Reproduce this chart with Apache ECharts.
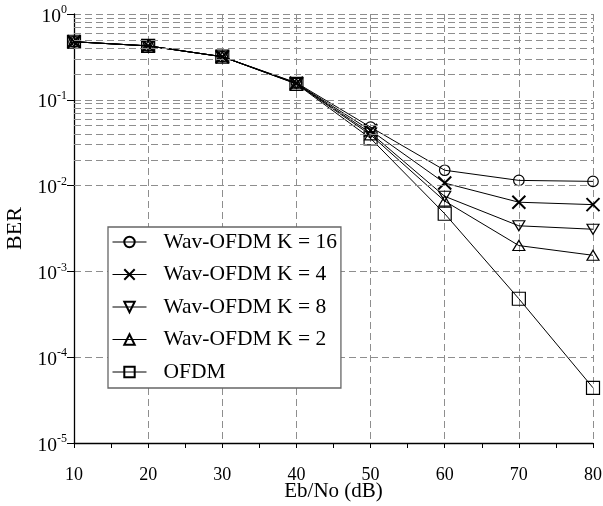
<!DOCTYPE html>
<html>
<head>
<meta charset="utf-8">
<script src="https://cdn.jsdelivr.net/npm/echarts@6/dist/echarts.min.js"></script>
<style>
  html, body { margin: 0; padding: 0; background: #fff; }
  #chart { width: 603px; height: 506px; }
</style>
</head>
<body>
<div id="chart"></div>
<script>
// Eb/No sweep (dB)
const ebno = [10, 20, 30, 40, 50, 60, 70, 80];

// Bit error rate for each scheme
const berWavK16 = [0.475, 0.425, 0.318, 0.158, 0.048, 0.0151, 0.0115, 0.0112];
const berWavK4  = [0.475, 0.425, 0.318, 0.156, 0.044, 0.0107, 0.0064, 0.0060];
const berWavK8  = [0.475, 0.425, 0.318, 0.155, 0.041, 0.0075, 0.0034, 0.0031];
const berWavK2  = [0.475, 0.425, 0.318, 0.154, 0.039, 0.0066, 0.0020, 0.00154];
const berOFDM   = [0.475, 0.425, 0.318, 0.153, 0.0355, 0.0047, 0.00048, 0.000044];

const seriesNames = ['Wav-OFDM K = 16', 'Wav-OFDM K = 4', 'Wav-OFDM K = 8', 'Wav-OFDM K = 2', 'OFDM'];

// log-axis decades and the intermediate gridline multipliers
const decades = [-5, -4, -3, -2, -1];
const gridMultipliers = [2, 3, 4, 5, 6, 7, 8, 9];
const minorGridValues = [];
decades.forEach(d => gridMultipliers.forEach(m => minorGridValues.push(m * Math.pow(10, d))));

const FONT = '"Liberation Serif", "Times New Roman", serif';
const gridDash = { type: [7, 4], color: '#8e8e8e', width: 1 };

function curve(name, values, symbol, size, extra) {
  return Object.assign({
    name: name,
    type: 'line',
    z: 3,
    data: ebno.map((x, i) => [x, values[i]]),
    symbol: symbol,
    symbolSize: size,
    showAllSymbol: true,
    lineStyle: { color: '#000', width: 1 },
    itemStyle: { color: 'rgba(0,0,0,0)', borderColor: '#000', borderWidth: 1.2 },
    emphasis: { disabled: true },
    animation: false
  }, extra || {});
}

const chart = echarts.init(document.getElementById('chart'), null, { renderer: 'canvas' });

chart.setOption({
  animation: false,
  backgroundColor: '#fff',
  grid: { left: 74, right: 10, top: 14, bottom: 63, containLabel: false, outerBoundsMode: 'none' },
  xAxis: {
    type: 'value',
    min: 10, max: 80, interval: 10,
    name: 'Eb/No (dB)',
    nameLocation: 'middle',
    nameGap: 38,
    nameMoveOverlap: false,
    nameTextStyle: { fontFamily: FONT, fontSize: 21, color: '#000' },
    axisLine: { show: true, onZero: false, lineStyle: { color: '#000', width: 1.3 } },
    axisTick: { show: true, length: 5, lineStyle: { color: '#000', width: 1 } },
    minorTick: { show: true, splitNumber: 2, length: 5, lineStyle: { color: '#000', width: 1 } },
    axisLabel: { fontFamily: FONT, fontSize: 18, color: '#000', margin: 23 },
    splitLine: { show: true, lineStyle: gridDash }
  },
  yAxis: {
    type: 'log',
    logBase: 10,
    min: 1e-5, max: 1,
    name: 'BER',
    nameLocation: 'middle',
    nameGap: 47,
    nameRotate: 90,
    nameTextStyle: { fontFamily: FONT, fontSize: 22, color: '#000' },
    axisLine: { show: true, onZero: false, lineStyle: { color: '#000', width: 1.3 } },
    axisTick: { show: true, length: 7, lineStyle: { color: '#000', width: 1 } },
    axisLabel: {
      margin: 7,
      formatter: function (v) {
        const e = Math.round(Math.log10(v));
        return '{b|10}{s|' + e + '}';
      },
      rich: {
        b: { fontFamily: FONT, fontSize: 19.5, color: '#000', padding: [5, 0, 0, 0] },
        s: { fontFamily: FONT, fontSize: 12, color: '#000', padding: [0, 0, 8, 0] }
      }
    },
    splitLine: { show: true, lineStyle: gridDash }
  },
  legend: {
    data: seriesNames,
    orient: 'vertical',
    left: 108,
    top: 227,
    backgroundColor: '#fff',
    borderColor: '#666',
    borderWidth: 1.3,
    borderRadius: 0,
    padding: [4, 4, 5, 4],
    itemWidth: 34,
    itemHeight: 13,
    itemGap: 10.5,
    textStyle: { fontFamily: FONT, fontSize: 21.5, lineHeight: 21, color: '#000', padding: [0, 0, 0, 12] },
    lineStyle: { color: '#000', width: 1 },
    selectedMode: false
  },
  series: [
    {
      name: 'gridlines',
      type: 'line',
      z: 1,
      data: [],
      silent: true,
      markLine: {
        silent: true,
        symbol: 'none',
        animation: false,
        label: { show: false },
        lineStyle: gridDash,
        emphasis: { disabled: true },
        data: minorGridValues.map(v => ({ yAxis: v }))
      }
    },
    curve(seriesNames[0], berWavK16, 'circle', 10.5),
    curve(seriesNames[1], berWavK4, 'path://M0,0L10,10M10,0L0,10', 13,
      { itemStyle: { color: 'rgba(0,0,0,0)', borderColor: '#000', borderWidth: 2 } }),
    curve(seriesNames[2], berWavK8, 'path://M0,0L12,0L6,10Z', [12, 10]),
    curve(seriesNames[3], berWavK2, 'path://M6,0L12,10L0,10Z', [12, 10]),
    curve(seriesNames[4], berOFDM, 'rect', 13)
  ]
});
</script>
</body>
</html>
